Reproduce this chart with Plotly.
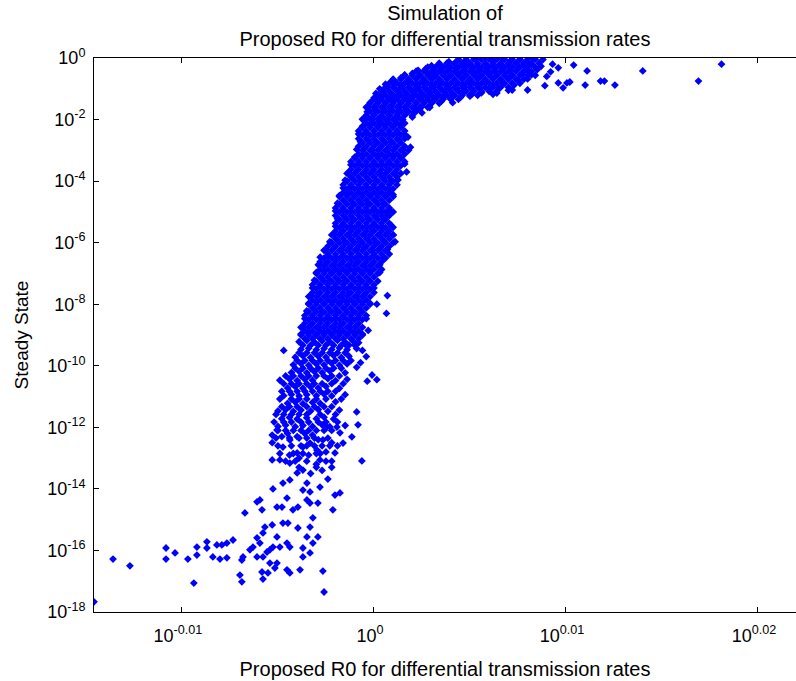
import plotly.graph_objects as go

# Values are stored as exponents:
#   R0 exponent in thousandths of a decade  -> R0 = 10**(v/1000)
#   steady-state exponent in decades        -> SS = 10**v

# dense upper arm, one row per steady-state level: (exponent, [R0 exponents])
arm_rows = [
    (-0.04, [4.4,4.8,5.2,5.6,6.0,6.4,6.8,7.2,7.6,8.0,8.4]),
    (-0.17, [3.4,3.8,4.2,4.6,5.0,5.4,5.8,6.2,6.6,7.0,7.4,7.8,8.2,8.6]),
    (-0.30, [2.8,3.2,3.6,4.0,4.4,4.8,5.2,5.6,6.0,6.4,6.8,7.2,7.6,8.0,8.4]),
    (-0.43, [2.2,2.6,3.0,3.4,3.8,4.2,4.6,5.0,5.4,5.8,6.2,6.6,7.0,7.4,7.8,8.2]),
    (-0.56, [1.6,2.0,2.4,2.8,3.2,3.6,4.0,4.4,4.8,5.2,5.6,6.0,6.4,6.8,7.2,7.6,8.0,8.4]),
    (-0.69, [1.0,1.4,1.8,2.2,2.6,3.0,3.4,3.8,4.2,4.6,5.0,5.4,5.8,6.2,6.6,7.0,7.4,7.8]),
    (-0.82, [0.8,1.2,1.6,2.0,2.4,2.8,3.2,3.6,4.0,4.4,4.8,5.2,5.6,6.0,6.4,6.8,7.2,7.6]),
    (-0.95, [0.6,1.0,1.4,1.8,2.2,2.6,3.0,3.4,3.8,4.2,4.6,5.0,5.4,5.8,6.2,6.6,7.0]),
    (-1.08, [0.4,0.8,1.2,1.6,2.0,2.4,2.8,3.2,3.6,4.0,4.4,4.8,5.2,5.6,6.0,6.4]),
    (-1.21, [0.2,0.6,1.0,1.4,1.8,2.2,2.6,3.0,3.4,3.8,4.2,4.6,5.0,5.4]),
    (-1.34, [0.0,0.4,0.8,1.2,1.6,2.0,2.4,2.8,3.2,3.6,4.0,4.4]),
    (-1.47, [-0.2,0.2,0.6,1.0,1.4,1.8,2.2,2.6,3.0,3.4]),
    (-1.60, [-0.4,0.0,0.4,0.8,1.2,1.6,2.0,2.4,2.8]),
    (-1.73, [-0.2,0.2,0.6,1.0,1.4,1.8,2.2]),
    (-1.86, [-0.4,0.0,0.4,0.8,1.2,1.6,2.0]),
    (-1.99, [-0.6,-0.2,0.2,0.6,1.0,1.4]),
]

# dense vertical band, one row per steady-state level
core_rows = [
    (-2.12, [-0.4,0.0,0.4,0.8,1.2,1.6]),
    (-2.25, [-0.6,-0.2,0.2,0.6,1.0,1.4]),
    (-2.37, [-0.8,-0.4,0.0,0.4,0.8,1.2,1.6]),
    (-2.50, [-0.6,-0.2,0.2,0.6,1.0,1.4]),
    (-2.62, [-0.8,-0.4,0.0,0.4,0.8,1.2,1.6]),
    (-2.75, [-0.6,-0.2,0.2,0.6,1.0,1.4]),
    (-2.87, [-0.8,-0.4,0.0,0.4,0.8,1.2,1.6]),
    (-3.00, [-0.6,-0.2,0.2,0.6,1.0,1.4,1.8]),
    (-3.12, [-0.8,-0.4,0.0,0.4,0.8,1.2,1.6]),
    (-3.25, [-1.0,-0.6,-0.2,0.2,0.6,1.0,1.4]),
    (-3.37, [-1.2,-0.8,-0.4,0.0,0.4,0.8,1.2,1.6]),
    (-3.50, [-1.0,-0.6,-0.2,0.2,0.6,1.0,1.4]),
    (-3.62, [-1.2,-0.8,-0.4,0.0,0.4,0.8,1.2]),
    (-3.75, [-1.4,-1.0,-0.6,-0.2,0.2,0.6,1.0,1.4]),
    (-3.87, [-1.2,-0.8,-0.4,0.0,0.4,0.8,1.2]),
    (-4.00, [-1.4,-1.0,-0.6,-0.2,0.2,0.6,1.0]),
    (-4.12, [-1.6,-1.2,-0.8,-0.4,0.0,0.4,0.8,1.2]),
    (-4.25, [-1.4,-1.0,-0.6,-0.2,0.2,0.6,1.0]),
    (-4.37, [-1.6,-1.2,-0.8,-0.4,0.0,0.4,0.8]),
    (-4.50, [-1.8,-1.4,-1.0,-0.6,-0.2,0.2,0.6,1.0]),
    (-4.62, [-1.6,-1.2,-0.8,-0.4,0.0,0.4,0.8]),
    (-4.75, [-1.8,-1.4,-1.0,-0.6,-0.2,0.2,0.6]),
    (-4.87, [-2.0,-1.6,-1.2,-0.8,-0.4,0.0,0.4,0.8]),
    (-5.00, [-1.8,-1.4,-1.0,-0.6,-0.2,0.2,0.6,1.0]),
    (-5.12, [-2.0,-1.6,-1.2,-0.8,-0.4,0.0,0.4,0.8]),
    (-5.25, [-1.8,-1.4,-1.0,-0.6,-0.2,0.2,0.6]),
    (-5.37, [-2.0,-1.6,-1.2,-0.8,-0.4,0.0,0.4,0.8]),
    (-5.50, [-1.8,-1.4,-1.0,-0.6,-0.2,0.2,0.6,1.0]),
    (-5.62, [-2.0,-1.6,-1.2,-0.8,-0.4,0.0,0.4,0.8]),
    (-5.75, [-2.2,-1.8,-1.4,-1.0,-0.6,-0.2,0.2,0.6,1.0]),
    (-5.87, [-2.0,-1.6,-1.2,-0.8,-0.4,0.0,0.4,0.8]),
    (-6.00, [-2.2,-1.8,-1.4,-1.0,-0.6,-0.2,0.2,0.6,1.0]),
    (-6.12, [-2.4,-2.0,-1.6,-1.2,-0.8,-0.4,0.0,0.4,0.8]),
    (-6.25, [-2.6,-2.2,-1.8,-1.4,-1.0,-0.6,-0.2,0.2,0.6]),
    (-6.37, [-2.4,-2.0,-1.6,-1.2,-0.8,-0.4,0.0,0.4,0.8]),
    (-6.50, [-2.6,-2.2,-1.8,-1.4,-1.0,-0.6,-0.2,0.2,0.6]),
    (-6.62, [-2.8,-2.4,-2.0,-1.6,-1.2,-0.8,-0.4,0.0,0.4]),
    (-6.75, [-2.6,-2.2,-1.8,-1.4,-1.0,-0.6,-0.2,0.2]),
    (-6.87, [-2.8,-2.4,-2.0,-1.6,-1.2,-0.8,-0.4,0.0,0.4]),
    (-7.00, [-3.0,-2.6,-2.2,-1.8,-1.4,-1.0,-0.6,-0.2,0.2]),
    (-7.12, [-2.8,-2.4,-2.0,-1.6,-1.2,-0.8,-0.4,0.0]),
    (-7.25, [-3.0,-2.6,-2.2,-1.8,-1.4,-1.0,-0.6,-0.2,0.2]),
    (-7.37, [-3.2,-2.8,-2.4,-2.0,-1.6,-1.2,-0.8,-0.4,0.0]),
    (-7.50, [-3.0,-2.6,-2.2,-1.8,-1.4,-1.0,-0.6,-0.2]),
    (-7.62, [-3.2,-2.8,-2.4,-2.0,-1.6,-1.2,-0.8,-0.4,0.0]),
    (-7.75, [-3.4,-3.0,-2.6,-2.2,-1.8,-1.4,-1.0,-0.6,-0.2]),
    (-7.87, [-3.2,-2.8,-2.4,-2.0,-1.6,-1.2,-0.8,-0.4]),
    (-8.00, [-3.4,-3.0,-2.6,-2.2,-1.8,-1.4,-1.0,-0.6,-0.2]),
    (-8.12, [-3.2,-2.8,-2.4,-2.0,-1.6,-1.2,-0.8,-0.4]),
    (-8.25, [-3.4,-3.0,-2.6,-2.2,-1.8,-1.4,-1.0,-0.6]),
    (-8.37, [-3.6,-3.2,-2.8,-2.4,-2.0,-1.6,-1.2,-0.8,-0.4]),
    (-8.50, [-3.4,-3.0,-2.6,-2.2,-1.8,-1.4,-1.0,-0.6]),
    (-8.62, [-3.6,-3.2,-2.8,-2.4,-2.0,-1.6,-1.2,-0.8]),
    (-8.75, [-3.8,-3.4,-3.0,-2.6,-2.2,-1.8,-1.4,-1.0,-0.6]),
    (-8.87, [-3.6,-3.2,-2.8,-2.4,-2.0,-1.6,-1.2,-0.8]),
    (-9.00, [-3.8,-3.4,-3.0,-2.6,-2.2,-1.8,-1.4,-1.0,-0.6]),
    (-9.12, [-3.6,-3.2,-2.8,-2.4,-2.0,-1.6,-1.2,-0.8]),
    (-9.33, [-3.7,-3.3,-2.9,-2.5,-2.1,-1.7,-1.3,-1.0]),
    (-9.58, [-3.9,-3.5,-3.1,-2.7,-2.3,-1.9,-1.5]),
    (-9.83, [-4.0,-3.6,-3.2,-2.8,-2.4,-2.0,-1.6,-1.2]),
    (-10.08, [-4.1,-3.7,-3.3,-2.9,-2.5,-2.1,-1.7]),
    (-10.33, [-4.6,-4.2,-3.8,-3.4,-3.0,-2.6,-2.2,-1.8]),
    (-10.58, [-4.7,-4.3,-3.9,-3.5,-3.1,-2.7,-2.2,-1.6]),
    (-10.83, [-4.8,-4.4,-4.0,-3.6,-3.2,-2.8,-2.4,-2.0]),
    (-11.08, [-4.9,-4.3,-3.9,-3.5,-3.0,-2.5,-1.7]),
    (-11.33, [-4.8,-4.4,-4.0,-3.5,-3.1,-2.6,-2.2]),
    (-11.58, [-5.1,-4.7,-4.3,-3.9,-3.5,-2.8,-2.0]),
    (-11.83, [-5.2,-4.7,-4.3,-3.8,-3.4,-2.9,-2.5,-1.9]),
    (-12.10, [-5.0,-4.6,-4.2,-3.8,-3.4,-3.0,-2.6,-2.2]),
    (-12.35, [-5.1,-4.4,-3.9,-3.5,-3.1,-2.4]),
    (-12.60, [-5.0,-4.3,-3.5,-3.1,-2.7,-2.3,-1.9]),
    (-12.85, [-4.9,-4.2,-3.7,-3.0,-2.8]),
    (-13.10, [-4.6,-4.1,-3.5,-2.2]),
    (-13.30, [-3.9,-3.0]),
]

# individually read points (R0 exponent, steady-state exponent)
arm_pts = [
    (3.9,-0.12),(4.4,-0.06),(4.8,-0.1),(5.3,-0.03),(5.8,0.0),(6.2,-0.08),(6.7,-0.04),(7.1,-0.1),(7.6,-0.05),(8.3,0.0),(8.0,-0.12),
    (3.0,-0.25),(3.4,-0.2),(3.8,-0.26),(4.2,-0.18),(4.6,-0.24),(5.0,-0.2),(5.4,-0.26),(5.8,-0.19),(6.2,-0.25),(6.6,-0.2),(7.0,-0.24),(7.4,-0.18),(7.8,-0.25),(8.2,-0.2),(8.7,-0.27),
    (2.3,-0.4),(2.7,-0.35),(3.1,-0.41),(3.5,-0.36),(3.9,-0.4),(4.3,-0.34),(4.7,-0.41),(5.1,-0.37),(5.5,-0.4),(5.9,-0.35),(6.3,-0.42),(6.7,-0.36),(7.1,-0.4),(7.5,-0.35),(8.0,-0.41),(8.5,-0.38),
    (1.6,-0.55),(2.0,-0.5),(2.4,-0.56),(2.8,-0.51),(3.2,-0.55),(3.6,-0.5),(4.0,-0.56),(4.4,-0.52),(4.8,-0.55),(5.2,-0.5),(5.6,-0.56),(6.0,-0.52),(6.4,-0.55),(6.8,-0.5),(7.2,-0.56),(7.7,-0.52),(8.2,-0.55),
    (1.0,-0.7),(1.4,-0.65),(1.8,-0.7),(2.2,-0.66),(2.6,-0.71),(3.0,-0.66),(3.4,-0.7),(3.8,-0.65),(4.2,-0.71),(4.6,-0.67),(5.0,-0.7),(5.4,-0.65),(5.8,-0.71),(6.2,-0.66),(6.6,-0.7),(7.0,-0.67),(7.5,-0.72),(8.0,-0.68),
    (0.6,-0.85),(1.0,-0.8),(1.4,-0.86),(1.8,-0.81),(2.2,-0.85),(2.6,-0.8),(3.0,-0.86),(3.4,-0.82),(3.8,-0.85),(4.2,-0.8),(4.6,-0.86),(5.0,-0.82),(5.4,-0.85),(5.8,-0.8),(6.2,-0.86),(6.7,-0.83),(7.3,-0.88),
    (0.3,-1.0),(0.7,-0.95),(1.1,-1.0),(1.5,-0.96),(1.9,-1.01),(2.3,-0.96),(2.7,-1.0),(3.1,-0.95),(3.5,-1.01),(3.9,-0.97),(4.3,-1.0),(4.7,-0.95),(5.1,-1.01),(5.5,-0.97),(6.0,-1.0),(6.5,-0.98),(7.0,-1.05),
    (0.1,-1.15),(0.5,-1.1),(0.9,-1.16),(1.3,-1.11),(1.7,-1.15),(2.1,-1.1),(2.5,-1.16),(2.9,-1.12),(3.3,-1.15),(3.7,-1.1),(4.1,-1.16),(4.6,-1.12),(5.1,-1.17),(5.6,-1.13),(6.2,-1.18),
    (0.0,-1.3),(0.4,-1.25),(0.8,-1.31),(1.2,-1.26),(1.6,-1.3),(2.0,-1.25),(2.4,-1.31),(2.8,-1.27),(3.2,-1.3),(3.6,-1.26),(4.0,-1.32),(4.5,-1.28),(5.0,-1.24),
    (-0.2,-1.45),(0.2,-1.4),(0.6,-1.46),(1.0,-1.41),(1.4,-1.45),(1.8,-1.4),(2.2,-1.46),(2.6,-1.42),(3.0,-1.45),(3.5,-1.41),(4.1,-1.45),
    (-0.3,-1.6),(0.1,-1.55),(0.5,-1.61),(0.9,-1.56),(1.3,-1.6),(1.7,-1.55),(2.1,-1.61),(2.5,-1.57),(2.9,-1.6),(2.4,-1.65),
    (-0.35,-1.75),(0.05,-1.7),(0.45,-1.76),(0.85,-1.71),(1.25,-1.75),(1.65,-1.7),(2.1,-1.76),(2.5,-1.78),
    (-0.4,-1.9),(0.0,-1.85),(0.4,-1.91),(0.8,-1.86),(1.2,-1.9),(1.6,-1.85),(2.0,-1.92),
    (-0.5,-2.05),(-0.1,-2.0),(0.3,-2.06),(0.7,-2.01),(1.1,-2.05),(1.5,-2.0),
]

top_right_pts = [
    (9.3,-0.2),(9.6,-0.32),(10.4,-0.23),(11.1,-0.42),(14.0,-0.42),(18.1,-0.2),(16.9,-0.75),
    (12.55,-0.88),(11.8,-0.75),(12.0,-0.75),(11.0,-0.88),(10.05,-0.81),(9.6,-0.81),(9.85,-0.97),
    (10.2,-0.78),(8.0,-1.04),(7.2,-1.04),(6.4,-1.14),(9.0,-0.6),(9.2,-0.45),(8.9,-0.9),(8.8,-0.05),
    (1.77,-2.57),(1.9,-2.9),(1.7,-3.7),(1.25,-3.96),(1.0,-5.75),(0.73,-5.1),(2.9,-1.6),
    (0.15,-8.0),(0.65,-8.3),(-0.3,-8.85),(-0.6,-9.5),(-0.4,-9.7),(-0.9,-9.3),(-0.1,-10.3),(-1.5,-9.3),
]

band_pts = [
    (-0.6,-2.22),(-0.2,-2.18),(0.2,-2.23),(0.6,-2.19),(1.0,-2.22),(1.4,-2.17),
    (-0.8,-2.47),(-0.4,-2.43),(0.0,-2.48),(0.4,-2.44),(0.8,-2.47),(1.2,-2.42),(1.6,-2.48),
    (-0.7,-2.72),(-0.3,-2.68),(0.1,-2.73),(0.5,-2.69),(0.9,-2.72),(1.3,-2.67),
    (-0.9,-2.97),(-0.5,-2.93),(-0.1,-2.98),(0.3,-2.94),(0.7,-2.97),(1.1,-2.92),(1.5,-2.98),
    (-1.0,-3.22),(-0.6,-3.18),(-0.2,-3.23),(0.2,-3.19),(0.6,-3.22),(1.0,-3.17),(1.4,-3.23),
    (-1.2,-3.47),(-0.8,-3.43),(-0.4,-3.48),(0.0,-3.44),(0.4,-3.47),(0.8,-3.42),(1.2,-3.48),(1.6,-3.44),
    (-1.3,-3.72),(-0.9,-3.68),(-0.5,-3.73),(-0.1,-3.69),(0.3,-3.72),(0.7,-3.67),(1.1,-3.73),
    (-1.5,-3.97),(-1.1,-3.93),(-0.7,-3.98),(-0.3,-3.94),(0.1,-3.97),(0.5,-3.92),(0.9,-3.98),
    (-1.6,-4.22),(-1.2,-4.18),(-0.8,-4.23),(-0.4,-4.19),(0.0,-4.22),(0.4,-4.17),(0.8,-4.23),
    (-1.8,-4.47),(-1.4,-4.43),(-1.0,-4.48),(-0.6,-4.44),(-0.2,-4.47),(0.2,-4.42),(0.6,-4.48),(1.0,-4.44),
    (-1.9,-4.72),(-1.5,-4.68),(-1.1,-4.73),(-0.7,-4.69),(-0.3,-4.72),(0.1,-4.67),(0.5,-4.73),
    (-2.0,-4.97),(-1.6,-4.93),(-1.2,-4.98),(-0.8,-4.94),(-0.4,-4.97),(0.0,-4.92),(0.4,-4.98),(0.8,-4.94),
    (-1.9,-5.22),(-1.5,-5.18),(-1.1,-5.23),(-0.7,-5.19),(-0.3,-5.22),(0.1,-5.17),(0.5,-5.23),
    (-2.0,-5.47),(-1.6,-5.43),(-1.2,-5.48),(-0.8,-5.44),(-0.4,-5.47),(0.0,-5.42),(0.4,-5.48),(0.9,-5.44),
    (-2.1,-5.72),(-1.7,-5.68),(-1.3,-5.73),(-0.9,-5.69),(-0.5,-5.72),(-0.1,-5.67),(0.3,-5.73),(0.7,-5.69),
    (-2.3,-5.97),(-1.9,-5.93),(-1.5,-5.98),(-1.1,-5.94),(-0.7,-5.97),(-0.3,-5.92),(0.1,-5.98),(0.5,-5.94),(1.1,-5.97),
    (-2.5,-6.22),(-2.1,-6.18),(-1.7,-6.23),(-1.3,-6.19),(-0.9,-6.22),(-0.5,-6.17),(-0.1,-6.23),(0.3,-6.19),(0.7,-6.22),
    (-2.8,-6.47),(-2.4,-6.43),(-2.0,-6.48),(-1.6,-6.44),(-1.2,-6.47),(-0.8,-6.42),(-0.4,-6.48),(0.0,-6.44),(0.5,-6.47),
    (-2.9,-6.72),(-2.5,-6.68),(-2.1,-6.73),(-1.7,-6.69),(-1.3,-6.72),(-0.9,-6.67),(-0.5,-6.73),(-0.1,-6.69),(0.3,-6.72),
    (-3.0,-6.97),(-2.6,-6.93),(-2.2,-6.98),(-1.8,-6.94),(-1.4,-6.97),(-1.0,-6.92),(-0.6,-6.98),(-0.2,-6.94),(0.3,-6.97),
    (-3.1,-7.22),(-2.7,-7.18),(-2.3,-7.23),(-1.9,-7.19),(-1.5,-7.22),(-1.1,-7.17),(-0.7,-7.23),(-0.3,-7.19),
    (-3.2,-7.47),(-2.8,-7.43),(-2.4,-7.48),(-2.0,-7.44),(-1.6,-7.47),(-1.2,-7.42),(-0.8,-7.48),(-0.4,-7.44),(0.0,-7.47),
    (-3.3,-7.72),(-2.9,-7.68),(-2.5,-7.73),(-2.1,-7.69),(-1.7,-7.72),(-1.3,-7.67),(-0.9,-7.73),(-0.5,-7.69),(0.7,-7.72),
    (-3.4,-7.97),(-3.0,-7.93),(-2.6,-7.98),(-2.2,-7.94),(-1.8,-7.97),(-1.4,-7.92),(-1.0,-7.98),(-0.6,-7.94),(-0.2,-7.97),
    (-3.5,-8.22),(-3.1,-8.18),(-2.7,-8.23),(-2.3,-8.19),(-1.9,-8.22),(-1.5,-8.17),(-1.1,-8.23),(-0.7,-8.19),
    (-3.6,-8.47),(-3.2,-8.43),(-2.8,-8.48),(-2.4,-8.44),(-2.0,-8.47),(-1.6,-8.42),(-1.2,-8.48),(-0.8,-8.44),(-0.4,-8.47),
    (-3.7,-8.72),(-3.3,-8.68),(-2.9,-8.73),(-2.5,-8.69),(-2.1,-8.72),(-1.7,-8.67),(-1.3,-8.73),(-0.9,-8.69),
    (-3.8,-8.97),(-3.4,-8.93),(-3.0,-8.98),(-2.6,-8.94),(-2.2,-8.97),(-1.8,-8.92),(-1.4,-8.98),(-1.0,-8.94),(-0.6,-8.97),
    (-3.9,-9.22),(-3.5,-9.18),(-3.1,-9.23),(-2.7,-9.19),(-2.3,-9.22),(-1.9,-9.17),(-1.5,-9.23),(-1.1,-9.19),(-0.8,-9.25),
    (-4.7,-9.5),(-3.8,-9.47),(-3.4,-9.43),(-3.0,-9.48),(-2.6,-9.44),(-2.2,-9.47),(-1.8,-9.42),(-1.4,-9.48),(-0.9,-9.44),
    (-4.1,-9.72),(-3.7,-9.68),(-3.3,-9.73),(-2.9,-9.69),(-2.5,-9.72),(-2.1,-9.67),(-1.7,-9.73),(-1.3,-9.69),
    (-4.2,-9.97),(-3.8,-9.93),(-3.4,-9.98),(-3.0,-9.94),(-2.6,-9.97),(-2.2,-9.92),(-1.8,-9.98),(-1.4,-9.94),(-0.7,-9.9),(-0.9,-10.05),
    (-4.3,-10.22),(-3.9,-10.18),(-3.5,-10.23),(-3.1,-10.19),(-2.7,-10.22),(-2.3,-10.17),(-1.5,-10.23),
    (-4.9,-10.47),(-4.4,-10.43),(-4.0,-10.48),(-3.6,-10.44),(-3.2,-10.47),(-2.4,-10.42),(-2.0,-10.48),(-1.4,-10.44),(-0.35,-10.5),(0.15,-10.45),
    (-4.5,-10.72),(-4.1,-10.68),(-3.7,-10.73),(-3.3,-10.69),(-2.9,-10.72),(-2.5,-10.67),(-1.8,-10.73),
    (-4.7,-10.97),(-4.3,-10.93),(-3.9,-10.98),(-3.5,-10.94),(-3.0,-10.97),(-2.6,-10.92),(-2.2,-10.98),(-1.5,-10.94),
    (-4.5,-11.22),(-4.1,-11.18),(-3.7,-11.23),(-3.2,-11.19),(-2.8,-11.22),(-2.0,-11.17),
    (-5.0,-11.47),(-4.6,-11.43),(-4.2,-11.48),(-3.8,-11.44),(-3.3,-11.47),(-2.9,-11.42),(-2.4,-11.48),(-1.8,-11.44),(-0.9,-11.5),
    (-4.8,-11.72),(-4.4,-11.68),(-4.0,-11.73),(-3.5,-11.69),(-3.0,-11.72),(-2.6,-11.67),(-2.1,-11.73),
    (-5.0,-11.97),(-4.6,-11.93),(-4.1,-11.98),(-3.7,-11.94),(-3.2,-11.97),(-2.7,-11.92),(-2.3,-11.98),(-1.5,-11.94),
]

lower_pts = [
    (-4.5,-12.2),(-4.0,-12.3),(-3.6,-12.2),(-3.2,-12.25),(-2.9,-12.4),(-3.4,-12.9),(-2.5,-12.8),(-4.4,-12.9),
    (-3.0,-13.2),(-2.5,-13.1),(-3.9,-13.0),(-2.2,-12.5),(-3.8,-12.6),(-4.8,-12.3),(-3.3,-13.5),(-2.7,-13.4),(-2.2,-13.3),
    (-5.3,-12.25),(-5.05,-12.09),(-5.3,-12.5),(-4.74,-12.64),(-4.38,-12.41),(-5.3,-13.06),(-4.9,-13.06),(-4.38,-13.16),
    (-4.0,-12.83),(-3.7,-12.64),(-3.33,-12.51),(-2.97,-12.74),(-2.66,-12.41),(-2.45,-11.99),(-1.93,-11.99),(-1.77,-12.18),
    (-1.61,-12.51),(-1.15,-12.31),(-0.83,-11.92),(-0.63,-13.09),(-2.03,-12.83),(-2.81,-13.06),(-3.7,-13.39),(-4.0,-13.48),
    (-3.49,-13.81),(-4.74,-13.81),(-4.38,-13.71),(-2.4,-13.68),(-2.81,-13.94),(-3.33,-14.1),(-3.7,-14.04),(-5.26,-14.0),
]

tail_pts = [
    (-5.94,-14.36),(-6.09,-14.42),(-6.72,-14.78),(-5.83,-14.68),(-5.05,-14.59),(-4.79,-14.59),(-4.53,-14.3),(-4.22,-14.68),
    (-3.96,-14.59),(-3.49,-14.36),(-3.33,-14.46),(-2.92,-14.46),(-2.03,-14.2),(-1.77,-14.13),(-2.14,-14.68),(-3.18,-14.94),
    (-3.33,-15.24),(-3.96,-15.27),(-4.48,-15.11),(-4.74,-15.11),(-5.3,-15.17),(-5.68,-15.24),(-5.78,-15.43),(-6.09,-15.59),
    (-5.94,-15.76),(-6.3,-15.89),(-6.46,-15.98),(-6.82,-16.21),(-6.88,-16.31),(-7.34,-15.66),(-7.66,-15.76),(-7.92,-15.82),
    (-8.18,-15.82),(-8.7,-15.72),(-8.7,-15.92),(-9.22,-15.89),(-9.22,-16.15),(-9.69,-16.28),(-10.36,-16.08),(-10.83,-15.92),
    (-10.83,-16.28),(-13.59,-16.28),(-12.71,-16.5),(-14.58,-17.67),(-9.38,-17.06),(-8.39,-16.21),(-8.02,-16.28),(-7.66,-16.24),
    (-6.98,-16.8),(-6.88,-17.02),(-6.09,-16.21),(-5.78,-16.21),(-5.42,-15.98),(-5.42,-16.41),(-5.05,-16.41),(-5.16,-16.57),
    (-5.83,-16.7),(-5.78,-16.93),(-5.52,-16.73),(-4.53,-16.63),(-4.38,-16.73),(-3.85,-16.63),(-3.7,-16.21),(-3.33,-16.08),
    (-3.7,-15.92),(-3.18,-15.76),(-2.92,-15.56),(-3.49,-15.56),(-5.05,-15.56),(-4.9,-15.89),(-4.53,-15.76),(-4.38,-15.89),
    (-5.26,-15.89),(-5.57,-16.05),(-2.66,-16.67),(-2.6,-17.35),
]

x_tick_exps = [-0.01, 0.0, 0.01, 0.02]
x_tick_text = ["10<sup>-0.01</sup>", "10<sup>0</sup>", "10<sup>0.01</sup>", "10<sup>0.02</sup>"]
y_tick_exps = [0, -2, -4, -6, -8, -10, -12, -14, -16, -18]
y_tick_text = ["10<sup>%d</sup>" % e for e in y_tick_exps]

all_pts = [(x, y) for y, xs in arm_rows + core_rows for x in xs]
all_pts += arm_pts + top_right_pts + band_pts + lower_pts + tail_pts
r0_values = [10 ** (p[0] / 1000.0) for p in all_pts]
steady_values = [10 ** p[1] for p in all_pts]

FONT = "Liberation Sans, Arial, Helvetica, sans-serif"

fig = go.Figure(
    go.Scatter(
        x=r0_values, y=steady_values, mode="markers",
        marker=dict(symbol="diamond", size=6, color="#0000FF", line=dict(width=0)),
        hoverinfo="x+y",
    )
)

fig.update_layout(
    width=796, height=681,
    margin=dict(l=94, r=0, t=58, b=69, autoexpand=False),
    paper_bgcolor="white", plot_bgcolor="white",
    showlegend=False,
    font=dict(family=FONT, size=18, color="black"),
    title=dict(
        text="Simulation of<br>Proposed R0 for differential transmission rates",
        x=0.559, xanchor="center", xref="container",
        y=0.9706, yanchor="top", yref="container",
        font=dict(family=FONT, size=20, color="black"),
    ),
)

fig.update_xaxes(
    type="log", range=[-0.01458, 0.02198], automargin=False,
    tickvals=[10 ** e for e in x_tick_exps], ticktext=x_tick_text,
    ticks="inside", ticklen=5, tickcolor="black", tickwidth=1,
    ticklabelstandoff=7, ticklabelshift=-4,
    showline=True, linecolor="black", linewidth=1, mirror="ticks",
    showgrid=False, zeroline=False,
    tickfont=dict(family=FONT, size=18, color="black"),
    title=dict(text="Proposed R0 for differential transmission rates", standoff=17,
               font=dict(family=FONT, size=20, color="black")),
)
fig.update_yaxes(
    type="log", range=[-18, 0], automargin=False,
    tickvals=[10 ** e for e in y_tick_exps], ticktext=y_tick_text,
    ticks="inside", ticklen=5, tickcolor="black", tickwidth=1,
    ticklabelstandoff=4,
    showline=True, linecolor="black", linewidth=1, mirror=False,
    showgrid=False, zeroline=False,
    tickfont=dict(family=FONT, size=18, color="black"),
    title=dict(text="Steady State", standoff=13,
               font=dict(family=FONT, size=19, color="black")),
)

fig.write_html(
    "out.html",
    config={"displayModeBar": False},
    post_script="document.body.style.margin='0';document.body.style.padding='0';",
)
